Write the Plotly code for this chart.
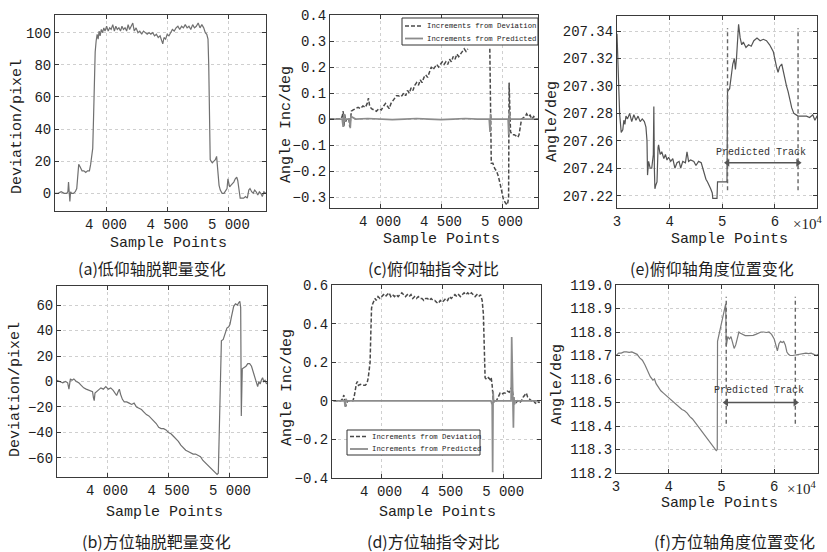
import plotly.graph_objects as go

W, H = 827, 552
MONO = "Liberation Mono"
SERIF = "Liberation Serif"
CJK = "Noto Sans CJK SC"

# ---------------- data ----------------
# (a) elevation-axis miss distance
a_x = [3585, 3610, 3635, 3660, 3680, 3690, 3695, 3700, 3706, 3712,
       3720, 3735, 3750, 3762, 3770, 3778, 3786, 3795, 3805, 3820,
       3835, 3850, 3865, 3875, 3884, 3892, 3898, 3905, 3912, 3920,
       3928, 3936, 3944, 3952, 3962, 3972, 3982, 3992, 4005, 4018,
       4030, 4042, 4055, 4068, 4080, 4092, 4105, 4118, 4130, 4142,
       4155, 4168, 4180, 4192, 4205, 4218, 4230, 4245, 4260, 4275,
       4290, 4305, 4320, 4335, 4350, 4365, 4380, 4395, 4410, 4425,
       4440, 4452, 4462, 4472, 4485, 4498, 4512, 4526, 4540, 4555,
       4570, 4585, 4600, 4615, 4630, 4645, 4660, 4675, 4690, 4705,
       4720, 4735, 4750, 4765, 4780, 4795, 4808, 4820, 4830, 4836,
       4842, 4848, 4855, 4865, 4878, 4890, 4900, 4906, 4912, 4920,
       4930, 4945, 4960, 4975, 4985, 4992, 4998, 5006, 5016, 5028,
       5040, 5052, 5064, 5072, 5080, 5086, 5092, 5105, 5120, 5135,
       5150, 5162, 5172, 5185, 5198, 5210, 5222, 5235, 5248, 5260,
       5272, 5285, 5300]
a_y = [0, 0, 1, 0, 0, 1, 7, -1, -5, 1,
       0, 0, 1, 3, 10, 18, 17, 15, 14, 14,
       13, 14, 14, 18, 22, 28, 45, 70, 88, 95,
       99, 96, 101, 98, 102, 100, 103, 101, 104, 101,
       103, 102, 105, 101, 104, 102, 103, 101, 104, 102,
       103, 101, 105, 102, 104, 106, 101, 103, 100, 101,
       99, 101, 100, 99, 100, 99, 100, 98, 99, 97,
       98, 95, 93, 97, 96, 99, 98, 100, 102, 101,
       103, 104, 102, 104, 103, 105, 103, 104, 102, 105,
       103, 104, 106, 103, 105, 103, 100, 99, 96, 80,
       40, 21, 20, 19, 20, 21, 23, 17, 10, 5,
       2, 0, 0, 2, 3, 9, 6, 4, 5, 6,
       7, 9, 10, 8, 3, -1, -3, -3, -3, -2,
       -3, 2, 3, 1, 0, 2, 1, -1, 1, 0,
       -2, 1, 0]

# (b) azimuth-axis miss distance
b_x = [3590, 3615, 3640, 3662, 3680, 3690, 3696, 3702, 3715, 3730,
       3750, 3770, 3790, 3810, 3830, 3850, 3870, 3882, 3890, 3896,
       3902, 3915, 3930, 3950, 3970, 3990, 4010, 4030, 4050, 4065,
       4078, 4090, 4100, 4110, 4125, 4140, 4160, 4180, 4200, 4220,
       4240, 4260, 4280, 4300, 4320, 4340, 4360, 4380, 4400, 4420,
       4440, 4460, 4480, 4500, 4520, 4540, 4560, 4580, 4600, 4620,
       4640, 4660, 4680, 4700, 4720, 4740, 4760, 4780, 4800, 4820,
       4840, 4860, 4880, 4895, 4905, 4915, 4930, 4945, 4960, 4975,
       4990, 5000, 5010, 5020, 5030, 5045, 5060, 5072, 5080, 5087,
       5092, 5100, 5115, 5130, 5145, 5160, 5175, 5190, 5205, 5215,
       5225, 5235, 5245, 5255, 5265, 5275, 5285, 5298]
b_y = [1, 0, -1, 0, -1, -6, 0, 2, 1, 2,
       0, -1, -3, -5, -6, -7, -8, -8, -13, -15,
       -9, -8, -7, -5, -6, -4, -6, -5, -7, -9,
       -11, -8, -6, -10, -14, -16, -16, -17, -18, -17,
       -20, -21, -22, -24, -26, -27, -29, -31, -33, -36,
       -37, -37, -38, -40, -41, -43, -45, -47, -50, -52,
       -54, -55, -56, -57, -57, -58, -59, -62, -64, -66,
       -68, -70, -72, -73, -72, -30, 32, 33, 38, 42,
       43, 45, 50, 56, 59, 61, 60, 62, 63, 58,
       -27, 10, 11, 12, 14, 14, 12, 7, 2, 0,
       -4, 0, -2, 1, 3, 0, 1, -2]

# (c) elevation-axis command comparison
c_dev_x = [3590, 3620, 3650, 3675, 3690, 3698, 3704, 3710, 3718, 3726,
           3735, 3745, 3752, 3758, 3765, 3780, 3800, 3820, 3840, 3860,
           3880, 3895, 3905, 3915, 3930, 3950, 3970, 3990, 4010, 4030,
           4045, 4060, 4075, 4090, 4105, 4120, 4135, 4150, 4165, 4180,
           4195, 4210, 4225, 4240, 4255, 4270, 4285, 4300, 4315, 4330,
           4345, 4360, 4375, 4390, 4405, 4420, 4435, 4450, 4465, 4480,
           4495, 4510, 4525, 4540, 4555, 4570, 4585, 4600, 4615, 4630,
           4645, 4660, 4675, 4690, 4705, 4720, 4730, 4900, 4906, 4912,
           4925, 4940, 4955, 4970, 4985, 5000, 5012, 5025, 5040, 5048,
           5054, 5058, 5064, 5070, 5085, 5100, 5115, 5130, 5140, 5150,
           5160, 5175, 5190, 5202, 5215, 5230, 5245, 5260, 5275, 5295]
c_dev_y = [0, 0, 0, 0, 0.01, 0.03, -0.03, 0.02, -0.01, 0,
           0, 0, -0.03, 0.02, 0.03, 0.035, 0.04, 0.045, 0.04, 0.05,
           0.045, 0.06, 0.08, 0.05, 0.04, 0.035, 0.03, 0.04, 0.035, 0.05,
           0.06, 0.05, 0.04, 0.06, 0.07, 0.08, 0.09, 0.09, 0.085, 0.09,
           0.1, 0.09, 0.11, 0.1, 0.12, 0.11, 0.13, 0.14, 0.13, 0.15,
           0.14, 0.16, 0.17, 0.16, 0.18, 0.2, 0.19, 0.2, 0.21, 0.2,
           0.21, 0.22, 0.21, 0.22, 0.21, 0.23, 0.22, 0.24, 0.23, 0.25,
           0.24, 0.25, 0.26, 0.27, 0.26, 0.27, None, 0.27, -0.1, -0.17,
           -0.17, -0.19, -0.2, -0.22, -0.25, -0.29, -0.31, -0.32, -0.33, -0.32,
           -0.3, 0.14, 0.0, -0.05, -0.06, -0.06, -0.065, -0.07, -0.06, -0.03,
           0, 0.005, 0.01, 0.02, 0.01, 0.015, 0, 0.01, 0, 0]
c_pred_x = [3590, 3690, 3698, 3704, 3712, 3720, 3750, 3756, 3762, 3800,
            3900, 4000, 4100, 4200, 4300, 4400, 4500, 4600, 4700, 4800,
            4895, 4902, 4906, 4912, 4950, 5000, 5050, 5055, 5060, 5066,
            5100, 5200, 5295]
c_pred_y = [0, 0, -0.03, 0.02, -0.01, 0, 0, -0.035, 0.01, 0,
            0.002, 0, -0.002, 0, 0.002, 0, -0.002, 0, 0.002, 0,
            0, -0.05, 0.02, 0, 0, 0, 0, -0.06, 0.03, 0,
            0, 0, 0]

# (d) azimuth-axis command comparison
d_dev_x = [3610, 3640, 3670, 3685, 3695, 3702, 3710, 3718, 3730, 3750,
           3770, 3782, 3790, 3798, 3806, 3815, 3830, 3850, 3870, 3885,
           3895, 3903, 3910, 3916, 3922, 3930, 3940, 3950, 3960, 3975,
           3990, 4005, 4020, 4035, 4050, 4065, 4080, 4095, 4110, 4125,
           4140, 4155, 4170, 4185, 4200, 4215, 4230, 4245, 4260, 4275,
           4290, 4305, 4320, 4335, 4350, 4365, 4380, 4395, 4410, 4425,
           4440, 4455, 4470, 4485, 4500, 4515, 4530, 4545, 4560, 4575,
           4590, 4605, 4620, 4635, 4650, 4665, 4680, 4695, 4710, 4725,
           4740, 4755, 4770, 4785, 4800, 4815, 4828, 4838, 4845, 4852,
           4865, 4880, 4893, 4902, 4910, 4918, 4930, 4945, 4960, 4975,
           4990, 5005, 5020, 5035, 5050, 5062, 5070, 5078, 5090, 5105,
           5120, 5135, 5150, 5165, 5180, 5190, 5200, 5215, 5230, 5245,
           5260, 5275, 5290, 5300]
d_dev_y = [0, 0, 0, 0.01, 0.03, 0.0, -0.03, -0.01, 0, 0,
           0, 0.03, 0.07, 0.09, 0.1, 0.08, 0.085, 0.08, 0.08, 0.09,
           0.12, 0.16, 0.2, 0.35, 0.48, 0.5, 0.52, 0.53, 0.52, 0.54,
           0.53, 0.54, 0.55, 0.54, 0.55, 0.56, 0.54, 0.55, 0.54, 0.55,
           0.54, 0.55, 0.56, 0.55, 0.54, 0.55, 0.54, 0.55, 0.53, 0.54,
           0.53, 0.54, 0.53, 0.53, 0.52, 0.53, 0.53, 0.52, 0.53, 0.52,
           0.52, 0.51, 0.505, 0.52, 0.51, 0.52, 0.53, 0.52, 0.54, 0.53,
           0.54, 0.55, 0.54, 0.55, 0.54, 0.55, 0.56, 0.55, 0.56, 0.55,
           0.56, 0.55, 0.54, 0.55, 0.54, 0.55, 0.52, 0.45, 0.2, 0.12,
           0.11, 0.12, 0.11, 0.12, 0.08, 0.01, 0, 0.0, 0.02, 0.04,
           0.035, 0.04, 0.04, 0.05, 0.045, 0.06, 0.07, 0.04, 0.0, -0.01,
           0, -0.01, 0, 0.02, 0.03, 0.04, 0.02, 0.01, 0, 0.005,
           -0.01, -0.015, -0.005, -0.01]
d_pred_x = [3610, 3700, 3706, 3712, 3720, 3800, 3900, 4000, 4100, 4200,
            4300, 4400, 4500, 4600, 4700, 4800, 4900, 4910, 4914, 4918,
            4922, 4930, 5000, 5065, 5070, 5074, 5077, 5080, 5084, 5088,
            5092, 5096, 5110, 5200, 5300]
d_pred_y = [0, 0, -0.03, 0.01, 0, 0, 0, 0, 0, 0,
            0, 0, 0, 0, 0, 0, 0, -0.02, -0.37, 0.05,
            -0.01, 0, 0, 0, 0.33, 0.1, 0.25, -0.02, -0.14, 0.02,
            -0.02, 0, 0, 0, 0]

# (e) elevation-axis angular position (x in units of 1e4 samples)
e_x = [3.0, 3.02, 3.05, 3.08, 3.11, 3.13, 3.15, 3.17, 3.2, 3.24,
       3.28, 3.32, 3.36, 3.4, 3.44, 3.48, 3.52, 3.55, 3.57, 3.58,
       3.6, 3.63, 3.66, 3.69, 3.7, 3.71, 3.72, 3.74, 3.76, 3.78,
       3.79, 3.82, 3.85, 3.89, 3.92, 3.95, 3.98, 4.02, 4.06, 4.1,
       4.14, 4.18, 4.21, 4.25, 4.3, 4.33, 4.36, 4.4, 4.46, 4.5,
       4.55, 4.6, 4.63, 4.66, 4.69, 4.72, 4.75, 4.78, 4.81, 4.82,
       4.9, 4.91, 4.93, 5.09, 5.1, 5.14, 5.18, 5.2, 5.23, 5.25,
       5.27, 5.29, 5.31, 5.34, 5.37, 5.4, 5.45, 5.5, 5.55, 5.6,
       5.66, 5.72, 5.78, 5.84, 5.9, 5.97, 6.0, 6.03, 6.06, 6.09,
       6.13, 6.16, 6.19, 6.22, 6.25, 6.28, 6.32, 6.36, 6.4, 6.44,
       6.48, 6.53, 6.6, 6.66, 6.72, 6.76, 6.8, 6.83]
e_y = [207.338, 207.315, 207.28, 207.266, 207.268, 207.275, 207.272, 207.278, 207.276, 207.28,
       207.274, 207.279, 207.275, 207.278, 207.274, 207.276, 207.274, 207.27, 207.26, 207.235,
       207.245, 207.24, 207.24, 207.25, 207.285, 207.24, 207.225, 207.228, 207.23, 207.255,
       207.257, 207.25, 207.252, 207.247, 207.25, 207.246, 207.248, 207.245, 207.247, 207.24,
       207.244, 207.245, 207.24, 207.245, 207.244, 207.252, 207.245, 207.246, 207.245, 207.242,
       207.245, 207.244, 207.24, 207.237, 207.232, 207.23, 207.228, 207.225, 207.222, 207.218,
       207.218, 207.23, 207.23, 207.23, 207.296, 207.298, 207.31, 207.316, 207.32, 207.312,
       207.32, 207.335, 207.345, 207.335, 207.33, 207.332, 207.328, 207.33, 207.329, 207.333,
       207.335, 207.333, 207.334, 207.333, 207.33, 207.325, 207.318, 207.314, 207.31, 207.314,
       207.316, 207.31, 207.306, 207.3, 207.296, 207.29, 207.284, 207.28, 207.279, 207.278,
       207.278, 207.278, 207.278, 207.277, 207.279, 207.275, 207.278, 207.278]

# (f) azimuth-axis angular position (x in units of 1e4 samples)
f_x = [3.0, 3.05, 3.1, 3.15, 3.2, 3.25, 3.3, 3.35, 3.4, 3.45,
       3.5, 3.55, 3.6, 3.65, 3.7, 3.73, 3.76, 3.8, 3.85, 3.9,
       3.95, 4.0, 4.05, 4.1, 4.15, 4.2, 4.25, 4.3, 4.35, 4.4,
       4.45, 4.5, 4.55, 4.6, 4.65, 4.7, 4.75, 4.8, 4.85, 4.9,
       4.92, 4.925, 5.08, 5.09, 5.12, 5.15, 5.18, 5.21, 5.24, 5.27,
       5.3, 5.33, 5.36, 5.4, 5.45, 5.5, 5.55, 5.6, 5.65, 5.7,
       5.75, 5.8, 5.85, 5.9, 5.95, 6.0, 6.03, 6.06, 6.09, 6.12,
       6.15, 6.18, 6.21, 6.24, 6.27, 6.3, 6.35, 6.4, 6.45, 6.5,
       6.55, 6.6, 6.65, 6.7, 6.75, 6.8, 6.83]
f_y = [118.70, 118.71, 118.71, 118.715, 118.715, 118.713, 118.715, 118.71, 118.705, 118.69,
       118.68, 118.66, 118.635, 118.61, 118.595, 118.6, 118.58, 118.565, 118.55, 118.54,
       118.53, 118.52, 118.51, 118.5, 118.49, 118.48, 118.47, 118.465, 118.455, 118.44,
       118.43, 118.415, 118.4, 118.385, 118.37, 118.355, 118.335, 118.32, 118.31, 118.295,
       118.3, 118.76, 118.92, 118.74, 118.78, 118.77, 118.78, 118.75, 118.73, 118.745,
       118.77, 118.8, 118.795, 118.79, 118.785, 118.785, 118.785, 118.786, 118.79, 118.795,
       118.8, 118.8, 118.798, 118.8, 118.79, 118.77, 118.74, 118.72, 118.75, 118.76,
       118.755, 118.76, 118.745, 118.715, 118.705, 118.7, 118.7, 118.702, 118.706, 118.705,
       118.708, 118.71, 118.708, 118.71, 118.705, 118.7, 118.705]

# predicted-track markers (start, end) and their vertical extents
e_track = [5.1, 6.44]
e_track_span = [207.224, 207.342]
e_track_arrow_y = 207.244
f_track = [5.09, 6.4]
f_track_span = [118.41, 118.95]
f_track_arrow_y = 118.5

# tick labels
samp_vals = [4000, 4500, 5000]
samp_text = ["4 000", "4 500", "5 000"]
big_vals = [3, 4, 5, 6]
big_text = ["3", "4", "5", "6"]

legend_names = ["Increments from Deviation", "Increments from Predicted"]
captions = ["(a)低仰轴脱靶量变化", "(c)俯仰轴指令对比", "(e)俯仰轴角度位置变化",
            "(b)方位轴脱靶量变化", "(d)方位轴指令对比", "(f)方位轴角度位置变化"]

# ---------------- figure ----------------
fig = go.Figure()
LINE = "#707070"
DEV_C, PRED_C = "#4a4a4a", "#8c8c8c"
DEV_DASH = "4px,2px"


def add(x, y, k, color=LINE, width=1.2, dash=None, mode="lines", marker=None):
    s = "" if k == 1 else str(k)
    fig.add_trace(go.Scatter(
        x=x, y=y, xaxis="x" + s, yaxis="y" + s, mode=mode,
        line=dict(color=color, width=width, dash=dash), marker=marker,
        showlegend=False, connectgaps=False, hoverinfo="skip"))


def vlines(xs, span):
    xx, yy = [], []
    for v in xs:
        xx += [v, v, None]
        yy += [span[0], span[1], None]
    return xx, yy


add(a_x, a_y, 1)
add(c_dev_x, c_dev_y, 2, color=DEV_C, width=1.5, dash=DEV_DASH)
add(c_pred_x, c_pred_y, 2, color=PRED_C, width=1.7)
add(e_x, e_y, 3, color="#555555", width=1.2)
vx, vy = vlines(e_track, e_track_span)
add(vx, vy, 3, color="#666666", width=1.4, dash="4px,3px")
add(b_x, b_y, 4)
add(d_dev_x, d_dev_y, 5, color=DEV_C, width=1.5, dash=DEV_DASH)
add(d_pred_x, d_pred_y, 5, color=PRED_C, width=1.7)
add(f_x, f_y, 6, color="#7a7a7a", width=1.2)
vx, vy = vlines(f_track, f_track_span)
add(vx, vy, 6, color="#666666", width=1.4, dash="4px,3px")

# double-headed "Predicted Track" arrows
for k, xs, ya in [(3, e_track, e_track_arrow_y), (6, f_track, f_track_arrow_y)]:
    add(xs, [ya, ya], k, color="#555555", width=1.3, mode="lines+markers",
        marker=dict(symbol=["triangle-left", "triangle-right"], size=7, color="#555555"))

# panel boxes in pixels: (left, right, top, bottom)
boxes = {
    1: (55, 266, 15, 211),
    2: (330, 538, 15, 208),
    3: (617, 817, 16, 208),
    4: (57, 267, 286, 477),
    5: (332, 541, 285, 478),
    6: (616, 818, 285, 473),
}
xranges = {1: [3585, 5302], 2: [3590, 5295], 3: [3.0, 6.8],
           4: [3593, 5301], 5: [3598, 5310], 6: [3.0, 6.83]}
yranges = {1: [-11, 111], 2: [-0.342, 0.4], 3: [207.211, 207.351],
           4: [-75, 75], 5: [-0.4, 0.6], 6: [118.2, 119.0]}
yticks = {1: dict(tickvals=[0, 20, 40, 60, 80, 100]),
          2: dict(tickvals=[-0.3, -0.2, -0.1, 0, 0.1, 0.2, 0.3, 0.4]),
          3: dict(tickvals=[207.22, 207.24, 207.26, 207.28, 207.30, 207.32, 207.34], tickformat=".2f"),
          4: dict(tickvals=[-60, -40, -20, 0, 20, 40, 60]),
          5: dict(tickvals=[-0.4, -0.2, 0, 0.2, 0.4, 0.6]),
          6: dict(tickvals=[118.2, 118.3, 118.4, 118.5, 118.6, 118.7, 118.8, 118.9, 119.0], tickformat=".1f")}

common = dict(showline=True, linecolor="#3a3a3a", linewidth=1, mirror="ticks",
              ticks="inside", ticklen=4, tickcolor="#3a3a3a",
              showgrid=True, gridcolor="#cfcfcf", griddash="dot", gridwidth=1,
              zeroline=False, automargin=False,
              tickfont=dict(family=MONO, size=14, color="#1e1e1e"),
              fixedrange=True)

layout = {}
for k, (l, r, t, b) in boxes.items():
    s = "" if k == 1 else str(k)
    xd = dict(common, domain=[l / W, r / W], range=xranges[k], anchor="y" + s)
    if k in (3, 6):
        xd.update(tickvals=big_vals, ticktext=big_text)
    else:
        xd.update(tickvals=samp_vals, ticktext=samp_text)
    yd = dict(common, domain=[1 - b / H, 1 - t / H], range=yranges[k], anchor="x" + s)
    yd.update(yticks[k])
    layout["xaxis" + s] = xd
    layout["yaxis" + s] = yd

ann = []
shapes = []


def txt(x, y, s, size=15, fam=MONO, angle=0, xanchor="center", color="#1e1e1e"):
    ann.append(dict(x=x / W, y=1 - y / H, xref="paper", yref="paper", text=s,
                    showarrow=False, textangle=angle, xanchor=xanchor, yanchor="middle",
                    font=dict(family=fam, size=size, color=color)))


# y-axis titles
txt(17, 127, "Deviation/pixel", angle=-90)
txt(286, 125, "Angle Inc/deg", angle=-90)
txt(553, 122, "Angle/deg", angle=-90)
txt(15, 390, "Deviation/pixel", angle=-90)
txt(287, 388, "Angle Inc/deg", angle=-90)
txt(557, 385, "Angle/deg", angle=-90)
# x-axis titles
for (x, y) in [(168, 243), (441, 240), (729, 239), (164, 512), (437, 512), (719, 503)]:
    txt(x, y, "Sample Points")
# exponent labels
txt(791, 223, "×10<sup>4</sup>", size=15, fam=SERIF, xanchor="left")
txt(785, 488, "×10<sup>4</sup>", size=15, fam=SERIF, xanchor="left")
# captions
for (x, y), s in zip([(152, 268), (433, 268), (712, 268), (156, 541), (433, 541), (734, 541)], captions):
    txt(x, y, s, size=16, fam=CJK)

# predicted track labels
for k, xs, ty in [(3, e_track, 207.2515), (6, f_track, 118.55)]:
    s = str(k)
    ann.append(dict(x=(xs[0] + xs[1]) / 2 - 0.04, y=ty, xref="x" + s, yref="y" + s,
                    text="Predicted Track", showarrow=False,
                    font=dict(family=MONO, size=10, color="#333333")))

# hand-drawn legends (pixel boxes: left, right, top, bottom; row y positions)
for (l, r, t, b, rows) in [(402, 538, 18, 45, (26, 38.5)), (347, 480, 430, 455, (436.5, 449))]:
    shapes.append(dict(type="rect", xref="paper", yref="paper",
                       x0=l / W, x1=r / W, y0=1 - b / H, y1=1 - t / H,
                       line=dict(color="#333333", width=1), fillcolor="white", layer="above"))
    for i, (yy, nm) in enumerate(zip(rows, legend_names)):
        shapes.append(dict(type="line", xref="paper", yref="paper",
                           x0=(l + 3) / W, x1=(l + 21) / W, y0=1 - yy / H, y1=1 - yy / H,
                           line=dict(color=DEV_C if i == 0 else PRED_C,
                                     width=1.4 if i == 0 else 1.8,
                                     dash=DEV_DASH if i == 0 else None),
                           layer="above"))
        txt(l + 23, yy, nm, size=7.3, xanchor="left", color="#222222")

fig.update_layout(
    width=W, height=H,
    margin=dict(l=0, r=0, t=0, b=0, autoexpand=False),
    paper_bgcolor="white", plot_bgcolor="white",
    showlegend=False,
    annotations=ann, shapes=shapes,
    **layout,
)

fig.write_html("out.html",
               config={"displayModeBar": False, "staticPlot": True},
               post_script="document.body.style.margin='0';document.body.style.padding='0';")
